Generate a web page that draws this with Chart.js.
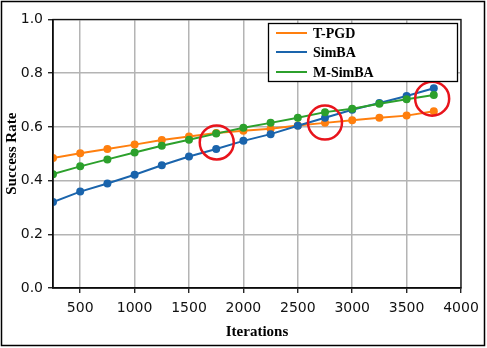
<!DOCTYPE html>
<html>
<head>
<meta charset="utf-8">
<script src="https://cdn.jsdelivr.net/npm/chart.js@4"></script>
<style>
  body { margin: 0; background: #fff; }
  #wrap { width: 487px; height: 348px; }
</style>
</head>
<body>
<div id="wrap"><canvas id="chart" width="487" height="348"></canvas></div>
<script>
// values
var iterations = [250, 500, 750, 1000, 1250, 1500, 1750, 2000, 2250, 2500, 2750, 3000, 3250, 3500, 3750];
var tpgd   = [0.484, 0.502, 0.518, 0.534, 0.551, 0.564, 0.577, 0.586, 0.593, 0.605, 0.615, 0.625, 0.634, 0.642, 0.658];
var simba  = [0.320, 0.359, 0.389, 0.422, 0.457, 0.490, 0.518, 0.548, 0.573, 0.604, 0.634, 0.664, 0.689, 0.715, 0.744];
var msimba = [0.424, 0.453, 0.479, 0.505, 0.530, 0.552, 0.575, 0.597, 0.615, 0.634, 0.655, 0.668, 0.686, 0.703, 0.719];
// red highlight rings
var markX = [1755, 2750, 3735];
var markY = [0.542, 0.616, 0.705];
var xTicks = [500, 1000, 1500, 2000, 2500, 3000, 3500, 4000];
var yTicks = [0, 0.2, 0.4, 0.6, 0.8, 1.0];

var names = ["T-PGD", "SimBA", "M-SimBA"];
var colors = ["#ff7f0e", "#1a64ac", "#2ca02c"];

function pts(ys) {
    return iterations.map(function (x, i) { return {x: x, y: ys[i]}; });
}

function lineSet(label, ys, color, order) {
    return {
        label: label,
        data: pts(ys),
        borderColor: color,
        backgroundColor: color,
        borderWidth: 2,
        pointRadius: 4,
        pointHoverRadius: 4,
        pointBorderWidth: 0,
        order: order
    };
}

var framePlugin = {
    id: "frame",
    beforeDraw: function (c) {
        let ctx = c.ctx;
        ctx.save();
        ctx.fillStyle = "#fff";
        ctx.fillRect(0, 0, c.width, c.height);
        ctx.restore();
    },
    afterDraw: function (c) {
        let ctx = c.ctx;
        let a = c.chartArea;
        ctx.save();
        // plot box
        ctx.strokeStyle = "#111";
        ctx.lineWidth = 1.3;
        ctx.strokeRect(a.left, a.top, a.right - a.left, a.bottom - a.top);
        // legend
        ctx.fillStyle = "#fff";
        ctx.fillRect(268, 23, 189, 58);
        ctx.strokeStyle = "#000";
        ctx.lineWidth = 1.3;
        ctx.strokeRect(268.5, 23.5, 189, 58);
        ctx.font = "bold 14px 'Liberation Serif'";
        ctx.textBaseline = "middle";
        let rows = [33, 52, 72];
        for (let i = 0; i < names.length; i++) {
            ctx.strokeStyle = colors[i];
            ctx.lineWidth = 2;
            ctx.beginPath();
            ctx.moveTo(276, rows[i]);
            ctx.lineTo(307, rows[i]);
            ctx.stroke();
            ctx.fillStyle = "#000";
            ctx.fillText(names[i], 313, rows[i] + 1);
        }
        // outer picture frame
        ctx.strokeStyle = "#000";
        ctx.lineWidth = 1.5;
        ctx.strokeRect(1.5, 1.5, 483, 344);
        ctx.restore();
    }
};

var ctx = document.getElementById("chart");
var chart = new Chart(ctx, {
    type: "line",
    data: {
        datasets: [
            {
                label: "marks",
                data: markX.map(function (x, i) { return {x: x, y: markY[i]}; }),
                showLine: false,
                pointRadius: 17,
                pointHoverRadius: 17,
                pointBorderWidth: 2.5,
                pointBorderColor: "#e8141c",
                pointBackgroundColor: "rgba(0,0,0,0)",
                order: 0
            },
            lineSet(names[2], msimba, colors[2], 1),
            lineSet(names[1], simba, colors[1], 2),
            lineSet(names[0], tpgd, colors[0], 3)
        ]
    },
    options: {
        responsive: false,
        animation: false,
        events: [],
        layout: { padding: { top: 15, right: 26, left: 0, bottom: 0 } },
        plugins: {
            legend: { display: false },
            tooltip: { enabled: false }
        },
        scales: {
            x: {
                type: "linear",
                min: 250,
                max: 4000,
                afterBuildTicks: function (s) { s.ticks = xTicks.map(function (v) { return {value: v}; }); },
                afterFit: function (s) { s.height = 60; },
                grid: { color: "#b4b4b4", lineWidth: 1.5, tickLength: 5, tickColor: "#000", tickWidth: 1.2 },
                border: { color: "#000", width: 1.5 },
                ticks: {
                    color: "#111",
                    font: { family: "DejaVu Sans", size: 14 },
                    padding: 7,
                    maxRotation: 0,
                    callback: function (v) { return String(v); }
                },
                title: {
                    display: true,
                    text: "Iterations",
                    color: "#000",
                    font: { family: "Liberation Serif", size: 15, weight: "bold" },
                    padding: { top: 0, bottom: 7 }
                }
            },
            y: {
                min: 0,
                max: 1,
                afterBuildTicks: function (s) { s.ticks = yTicks.map(function (v) { return {value: v}; }); },
                afterFit: function (s) { s.width = 53; },
                grid: { color: "#b4b4b4", lineWidth: 1.5, tickLength: 5, tickColor: "#000", tickWidth: 1.2 },
                border: { color: "#000", width: 1.5 },
                ticks: {
                    color: "#111",
                    font: { family: "DejaVu Sans", size: 14 },
                    padding: 5,
                    callback: function (v) { return v.toFixed(1); }
                },
                title: {
                    display: true,
                    text: "Success Rate",
                    color: "#000",
                    font: { family: "Liberation Serif", size: 15, weight: "bold" },
                    padding: { top: 3, bottom: 0 }
                }
            }
        }
    },
    plugins: [framePlugin]
});
</script>
</body>
</html>
